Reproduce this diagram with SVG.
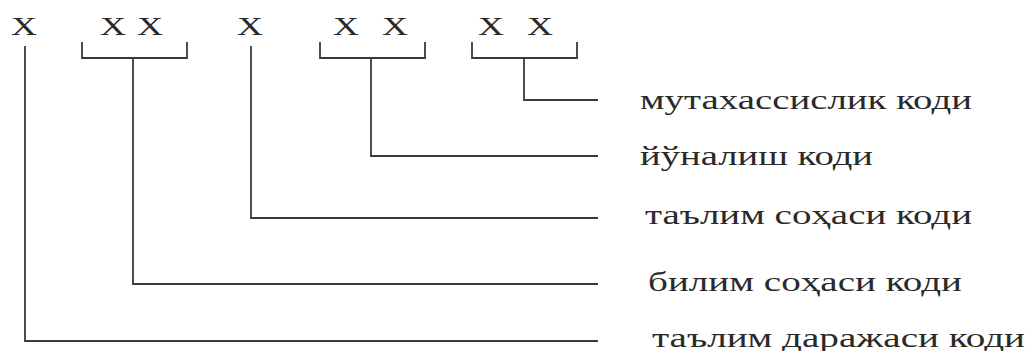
<svg xmlns="http://www.w3.org/2000/svg" width="1029" height="351" viewBox="0 0 1029 351">
<style>
.x{font-family:"Liberation Serif","Times New Roman",serif;font-size:25px;fill:#2a2a2a;text-anchor:middle}
.lbl{font-family:"Liberation Serif","Times New Roman",serif;font-size:28px;fill:#2a2a2a}
.ln{fill:none;stroke:#3a3a3a;stroke-width:1.8}
</style>
<rect width="1029" height="351" fill="#ffffff"/>
<g id="code-digits">
<g id="d1"><text class="x" x="24" y="35" textLength="26" lengthAdjust="spacingAndGlyphs">X</text></g>
<g id="d2"><text class="x" x="113" y="35" textLength="26" lengthAdjust="spacingAndGlyphs">X</text><text class="x" x="150" y="35" textLength="26" lengthAdjust="spacingAndGlyphs">X</text></g>
<g id="d3"><text class="x" x="250" y="35" textLength="26" lengthAdjust="spacingAndGlyphs">X</text></g>
<g id="d4"><text class="x" x="346" y="35" textLength="26" lengthAdjust="spacingAndGlyphs">X</text><text class="x" x="395" y="35" textLength="26" lengthAdjust="spacingAndGlyphs">X</text></g>
<g id="d5"><text class="x" x="491" y="35" textLength="26" lengthAdjust="spacingAndGlyphs">X</text><text class="x" x="540" y="35" textLength="26" lengthAdjust="spacingAndGlyphs">X</text></g>
</g>
<g id="connectors">
<path class="ln" d="M25 46 V341 H598"/>
<path class="ln" d="M82 42 V58 H187 V42 M133 58 V284 H598"/>
<path class="ln" d="M251 46 V218 H598"/>
<path class="ln" d="M320 42 V58 H425 V42 M371 58 V156 H598"/>
<path class="ln" d="M472 42 V58 H577 V42 M524 58 V100 H598"/>
</g>
<g id="label-specialty"><text class="lbl" x="640" y="109" textLength="332" lengthAdjust="spacingAndGlyphs">мутахассислик коди</text></g>
<g id="label-direction"><text class="lbl" x="640" y="165" textLength="233" lengthAdjust="spacingAndGlyphs">йўналиш коди</text></g>
<g id="label-edu-field"><text class="lbl" x="645" y="224" textLength="327" lengthAdjust="spacingAndGlyphs">таълим соҳаси коди</text></g>
<g id="label-knowledge-field"><text class="lbl" x="648" y="291" textLength="314" lengthAdjust="spacingAndGlyphs">билим соҳаси коди</text></g>
<g id="label-edu-level"><text class="lbl" x="652" y="347" textLength="373" lengthAdjust="spacingAndGlyphs">таълим даражаси коди</text></g>
</svg>
